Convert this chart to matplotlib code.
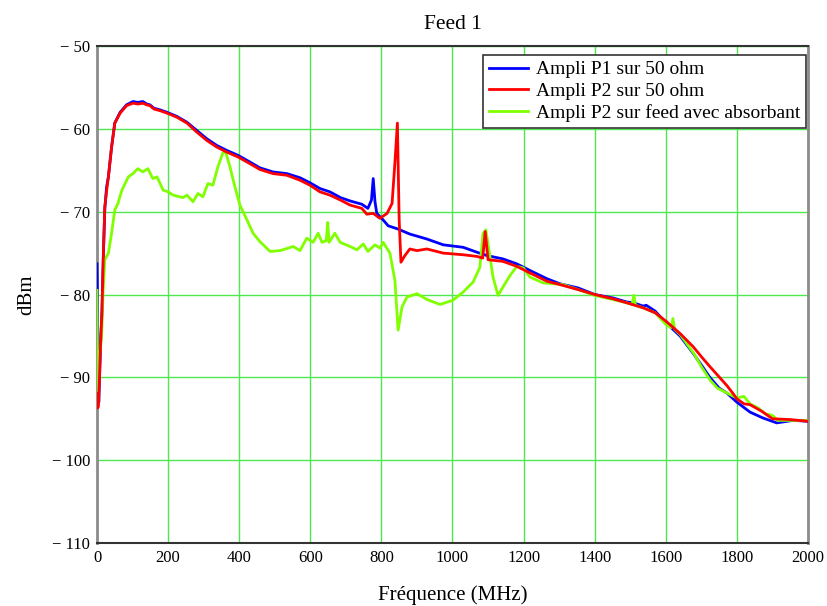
import matplotlib.pyplot as plt
from matplotlib.ticker import FuncFormatter

# Ampli P1 sur 50 ohm
f_p1 = [0, 1, 3, 5, 10, 14, 18, 22, 27, 32, 41, 50, 65, 83, 101, 115, 129, 140, 149, 160,
        177, 197, 225, 253, 281, 309, 337, 365, 397, 430, 458, 495, 534, 571, 599, 627,
        655, 685, 712, 745, 762, 772, 777, 782, 787, 805, 819, 847, 880, 928, 974, 1030,
        1069, 1097, 1142, 1181, 1218, 1266, 1302, 1353, 1400, 1450, 1490, 1510, 1536,
        1545, 1570, 1600, 1640, 1677, 1700, 1724, 1750, 1772, 1800, 1837, 1873, 1912,
        1958, 2000]
db_p1 = [-76.3, -79.5, -90, -93, -86, -82, -75, -69.6, -67, -65.8, -62.2, -59.3, -58.0,
         -57.1, -56.7, -56.8, -56.7, -57.0, -57.1, -57.5, -57.7, -58.0, -58.5, -59.2,
         -60.2, -61.2, -62.0, -62.6, -63.2, -64.0, -64.7, -65.2, -65.4, -65.9, -66.5,
         -67.2, -67.6, -68.3, -68.7, -69.1, -69.6, -68.6, -66.0, -68.8, -70.2, -71.0,
         -71.7, -72.1, -72.7, -73.3, -74.0, -74.3, -74.9, -75.3, -75.7, -76.3, -77.1,
         -78.1, -78.7, -79.2, -80.0, -80.4, -80.9, -81.0, -81.4, -81.3, -82.0, -83.4,
         -85.0, -87.1, -88.5, -90.0, -91.3, -91.9, -93.0, -94.2, -94.9, -95.5, -95.2,
         -95.3]

# Ampli P2 sur 50 ohm
f_p2 = [0, 2, 4, 7, 10, 14, 18, 22, 27, 32, 41, 50, 65, 83, 101, 115, 129, 140, 149, 160,
        177, 197, 225, 253, 281, 309, 337, 365, 397, 430, 458, 495, 534, 571, 599, 627,
        655, 685, 712, 745, 759, 777, 796, 816, 830, 838, 845, 850, 855, 866, 880, 900,
        928, 974, 1030, 1069, 1085, 1092, 1100, 1142, 1181, 1218, 1266, 1302, 1353, 1400,
        1450, 1490, 1536, 1570, 1600, 1640, 1677, 1700, 1724, 1772, 1790, 1800, 1820,
        1837, 1870, 1900, 1950, 2000]
db_p2 = [-92, -93.7, -93.5, -90, -86, -82, -75, -69.4, -67.5, -65.8, -62.2, -59.3, -58.1,
         -57.2, -56.9, -57.0, -56.9, -57.1, -57.2, -57.6, -57.8, -58.1, -58.6, -59.3,
         -60.4, -61.4, -62.2, -62.8, -63.4, -64.2, -64.9, -65.4, -65.6, -66.2, -66.8,
         -67.6, -68.0, -68.6, -69.2, -69.6, -70.3, -70.2, -70.8, -70.2, -69.0, -64.1,
         -59.3, -71.0, -76.1, -75.3, -74.5, -74.7, -74.5, -75.0, -75.2, -75.4, -75.6,
         -72.4, -75.8, -76.0, -76.6, -77.4, -78.4, -78.8, -79.4, -80.0, -80.5, -81.0,
         -81.6, -82.2, -83.2, -84.7, -86.3, -87.5, -88.7, -91.0, -92.0, -92.6, -93.2,
         -93.3, -94.1, -95.0, -95.1, -95.3]

# Ampli P2 sur feed avec absorbant
f_abs = [0, 2, 6, 13, 17, 22, 32, 41, 50, 59, 70, 88, 101, 115, 129, 143, 157, 169, 186,
         200, 214, 242, 253, 270, 284, 298, 312, 326, 340, 354, 362, 374, 388, 402, 422,
         439, 458, 487, 515, 552, 571, 590, 608, 622, 633, 645, 649, 653, 669, 684, 712,
         731, 749, 762, 782, 796, 805, 824, 838, 847, 858, 872, 900, 928, 965, 1001, 1030,
         1058, 1077, 1086, 1094, 1100, 1114, 1128, 1142, 1162, 1181, 1200, 1218, 1255,
         1311, 1353, 1400, 1450, 1490, 1505, 1510, 1515, 1536, 1570, 1600, 1615, 1620,
         1625, 1640, 1680, 1700, 1724, 1745, 1800, 1820, 1837, 1860, 1880, 1900, 1915,
         2000]
db_abs = [-79.5, -92.4, -88, -85.1, -79.8, -75.8, -75.0, -72.6, -69.8, -69.0, -67.4, -65.8,
          -65.4, -64.8, -65.2, -64.8, -66.0, -65.8, -67.4, -67.6, -68.0, -68.3, -68.0,
          -68.8, -67.8, -68.2, -66.6, -66.8, -64.6, -62.9, -62.8, -64.6, -67.0, -69.2,
          -71.0, -72.6, -73.6, -74.8, -74.7, -74.2, -74.7, -73.2, -73.7, -72.6, -73.7,
          -73.5, -71.3, -73.7, -72.6, -73.7, -74.2, -74.6, -73.9, -74.8, -74.0, -74.4,
          -73.7, -75.0, -78.3, -84.3, -81.5, -80.3, -79.9, -80.6, -81.2, -80.7, -79.7,
          -78.5, -76.7, -72.6, -72.2, -73.9, -77.9, -80.1, -79.1, -77.7, -76.6, -76.8,
          -77.9, -78.6, -78.8, -79.4, -80.1, -80.6, -81.0, -81.2, -80.1, -81.3, -81.6,
          -82.2, -83.6, -84.0, -82.9, -84.2, -84.8, -87.2, -88.7, -90.3, -91.3, -92.5,
          -92.3, -93.2, -93.7, -94.4, -94.6, -95.2, -95.2]

plt.rcParams['font.family'] = ['Liberation Serif', 'DejaVu Serif']

fig = plt.figure(figsize=(8.27, 6.06), dpi=100)
ax = fig.add_axes([0.1173, 0.104, 0.8597, 0.820])

ax.plot(f_p1, db_p1, color='#0000ff', lw=2.0, label='Ampli P1 sur 50 ohm', zorder=3)
ax.plot(f_abs, db_abs, color='#80ff00', lw=2.0, zorder=4)
ax.plot(f_p2, db_p2, color='#ff0000', lw=2.0, label='Ampli P2 sur 50 ohm', zorder=5)
# legend order: P1, P2, absorbant
ax.plot([], [], color='#80ff00', lw=2.0, label='Ampli P2 sur feed avec absorbant')

ax.set_xlim(0, 2000)
ax.set_ylim(-110, -50)
ax.set_xticks(range(0, 2001, 200))
ax.set_yticks(range(-110, -49, 10))
ax.yaxis.set_major_formatter(FuncFormatter(lambda v, p: '\u2212 %d' % abs(v) if v < 0 else '%d' % v))
ax.tick_params(length=0, labelsize=12, pad=5)
ax.grid(True, color='#4ee84e', lw=1.0)
ax.set_axisbelow(True)

for s in ['left', 'right']:
    ax.spines[s].set_color('#8c8c8c')
    ax.spines[s].set_linewidth(2)
for s in ['top', 'bottom']:
    ax.spines[s].set_color('#333333')
    ax.spines[s].set_linewidth(1.5)

ax.set_title('Feed 1', fontsize=15.5, pad=12)
ax.set_xlabel('Fréquence (MHz)', fontsize=15, labelpad=14)
ax.set_ylabel('dBm', fontsize=15)
ax.yaxis.set_label_coords(-0.086, 0.5)

leg = ax.legend(loc='upper right', bbox_to_anchor=(0.997, 0.982), fontsize=14,
                frameon=True, fancybox=False, edgecolor='#333333', framealpha=1,
                borderpad=0.3, labelspacing=0.2, handlelength=2.0, handletextpad=0.4,
                borderaxespad=0)
leg.get_frame().set_linewidth(1.2)

fig.savefig('out.png', dpi=100)
